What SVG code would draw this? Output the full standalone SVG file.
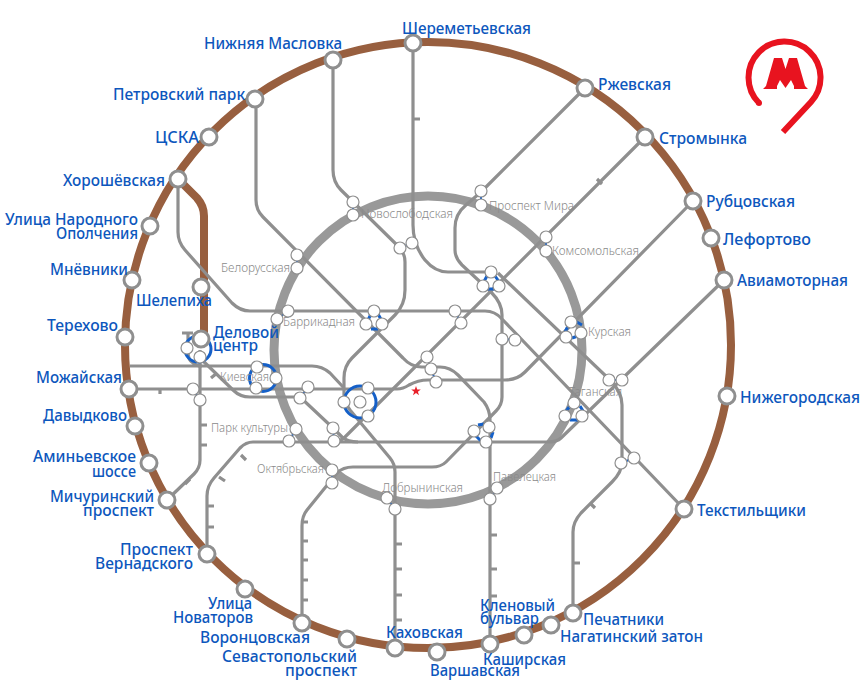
<svg xmlns="http://www.w3.org/2000/svg" width="868" height="696" viewBox="0 0 868 696">
<style>
.l{fill:none;stroke:#8f8f8f;stroke-width:3.2;stroke-linejoin:round}
.b{fill:none;stroke:#985f3f;stroke-width:8}
.u{fill:none;stroke:#1560c8;stroke-width:3}
.k{fill:none;stroke:#1560c8;stroke-width:2}
.o{fill:#fff;stroke:#8f8f8f;stroke-width:3}
.s{fill:#fff;stroke:#8f8f8f;stroke-width:1.2}
text{font-family:"Noto Sans","Open Sans","DejaVu Sans",sans-serif}
.t{font-size:15.5px;font-weight:500;fill:#0d57bd}
.g{font-size:12.5px;font-weight:300;fill:#8a8a8a}
</style>
<rect width="868" height="696" fill="#fff"/>
<g id="connectors">
<circle class="b" cx="428" cy="345" r="303"/>
<path class="b" d="M178 179L197 198Q204 206 204 216V339"/>
<circle cx="428" cy="350" r="154" fill="none" stroke="#999" stroke-width="9"/>
<path class="l" d="M413 43V225Q413 245 425 260Q435 272 448 272H491"/>
<path class="l" d="M498 273L610 380Q622 392 622 405V462Q622 472 612 482L581 513Q573 522 573 532V613"/>
<path class="l" d="M724 280L561 438Q557 442 548 442H253Q246 442 240 448L214 478Q207 486 207 496V554"/>
<path class="l" d="M178 179V232Q178 242 185 250L232 303Q240 311 250 311H485Q495 311 502 319L684 509"/>
<path class="l" d="M645 137L345 437Q341 441 335 442"/>
<path class="l" d="M585 88L481 192L466 205Q455 214 455 228V250Q455 258 462 265L491 292Q502 303 502 315V397Q502 405 496 411L446 462Q441 467 432 467H353Q343 467 337 473L307 510Q302 516 302 526V623"/>
<path class="l" d="M256 99V200Q256 210 263 217L403 358Q411 367 422 367H440Q450 367 458 375L484 402Q490 410 490 420V644"/>
<path class="l" d="M333 60V170Q333 182 341 190L400 248Q405 254 405 262V290Q405 305 395 315L352 358Q344 366 344 378V395Q344 402 350 410L390 458Q395 464 395 472V648"/>
<path class="l" d="M130 366H312Q322 366 330 373L344 388"/>
<path class="l" d="M129 389H397Q403 389 409 385Q418 380 428 380H505Q517 380 525 372L693 201"/>
<path class="l" d="M200 358L233 390Q240 397 250 397H300L333 428L342 437Q348 442 358 442"/>
<path class="l" d="M200 350V460Q200 468 194 474L167 500"/>
<path class="l" d="M182 333H193M188 333V352Q188 360 193 363Q196 366 202 366"/>
<path class="l" d="M413 119H420M602 184L597 179M160 389V394M211 378L217 373M200 425H207M200 445H207M190 479L185 484M241 455L246 460M219 477L225 481M207 506H214M207 527H214M302 522H308M302 541H308M302 560H308M302 580H308M302 600H308M395 544H402M395 569H402M395 595H402M395 620H402M490 535H497M490 569H497M490 596H497M573 563H580M590 503L595 508"/>
<path class="u" d="M482 285L487 276M495 276L500 283M486 289H496"/>
<path class="u" d="M367 322L371 314M378 314L382 321M371 329H378"/>
<path class="u" d="M565 332L568 326M575 321L582 325M572 338L578 336"/>
<path class="u" d="M566 411L570 406M580 406L583 411M570 420H578"/>
<path class="u" d="M478 425L484 424M493 432L491 438M476 436L481 441"/>
<circle class="u" cx="263" cy="378" r="13.5"/>
<circle class="u" cx="198" cy="349" r="13"/>
<circle class="u" cx="360" cy="402" r="16"/>
<path class="k" d="M297 255V268M288 311L277 319M353 202V215M400 248L412 243M481 191V205M546 237V251M455 311L461 323M502 339L515 340M427 357L431 369L436 382M609 380H622M621 463L634 458M497 488L490 499M387 498L395 509M332 470V483M296 429L289 441M333 428L334 441M308 387L300 398M193 389L200 400"/>
</g>
<g id="logo" fill="none">
<path d="M759 103A36 36 0 1 1 811 102L783 132" stroke="#e8131f" stroke-width="6"/>
<circle cx="759" cy="103" r="3" fill="#e8131f"/>
<polygon points="763,89 777,89 777,86 780,80 785.5,88 791,80 794,86 794,89 808,89 805,86 797,58 789,58 785.5,69 782,58 774,58 766,86" fill="#e8131f"/>
</g>
<g id="star"><polygon fill="#e8202a" points="416,386 417.2,389.4 420.8,389.5 417.9,391.7 419,395.2 416,393.1 413,395.2 414.1,391.7 411.2,389.5 414.8,389.4"/></g>
<g id="n1"><circle class="o" cx="413" cy="43" r="8"/><text class="t" x="402" y="34" textLength="129" lengthAdjust="spacingAndGlyphs">Шереметьевская</text></g>
<g id="n2"><circle class="o" cx="333" cy="60" r="8"/><text class="t" x="204" y="49" textLength="138" lengthAdjust="spacingAndGlyphs">Нижняя Масловка</text></g>
<g id="n3"><circle class="o" cx="255" cy="99" r="8"/><text class="t" x="113" y="100" textLength="132" lengthAdjust="spacingAndGlyphs">Петровский парк</text></g>
<g id="n4"><circle class="o" cx="209" cy="137" r="8"/><text class="t" x="155" y="143" textLength="44" lengthAdjust="spacingAndGlyphs">ЦСКА</text></g>
<g id="n5"><circle class="o" cx="178" cy="179" r="8"/><text class="t" x="63" y="186" textLength="102" lengthAdjust="spacingAndGlyphs">Хорошёвская</text></g>
<g id="n6"><circle class="o" cx="150" cy="226" r="8"/><text class="t" x="5" y="225" textLength="133" lengthAdjust="spacingAndGlyphs">Улица Народного</text><text class="t" x="56" y="239" textLength="82" lengthAdjust="spacingAndGlyphs">Ополчения</text></g>
<g id="n7"><circle class="o" cx="132" cy="280" r="8"/><text class="t" x="50" y="275" textLength="78" lengthAdjust="spacingAndGlyphs">Мнёвники</text></g>
<g id="n8"><circle class="o" cx="125" cy="337" r="8"/><text class="t" x="47" y="331" textLength="71" lengthAdjust="spacingAndGlyphs">Терехово</text></g>
<g id="n9"><circle class="o" cx="129" cy="389" r="8"/><text class="t" x="36" y="383" textLength="86" lengthAdjust="spacingAndGlyphs">Можайская</text></g>
<g id="n10"><circle class="o" cx="135" cy="426" r="8"/><text class="t" x="43" y="421" textLength="84" lengthAdjust="spacingAndGlyphs">Давыдково</text></g>
<g id="n11"><circle class="o" cx="149" cy="463" r="8"/><text class="t" x="33" y="462" textLength="103" lengthAdjust="spacingAndGlyphs">Аминьевское</text><text class="t" x="92" y="477" textLength="44" lengthAdjust="spacingAndGlyphs">шоссе</text></g>
<g id="n12"><circle class="o" cx="167" cy="500" r="8"/><text class="t" x="50" y="502" textLength="104" lengthAdjust="spacingAndGlyphs">Мичуринский</text><text class="t" x="83" y="516" textLength="71" lengthAdjust="spacingAndGlyphs">проспект</text></g>
<g id="n13"><circle class="o" cx="207" cy="554" r="8"/><text class="t" x="120" y="555" textLength="73" lengthAdjust="spacingAndGlyphs">Проспект</text><text class="t" x="95" y="569" textLength="98" lengthAdjust="spacingAndGlyphs">Вернадского</text></g>
<g id="n14"><circle class="o" cx="245" cy="589" r="8"/><text class="t" x="208" y="609" textLength="44" lengthAdjust="spacingAndGlyphs">Улица</text><text class="t" x="173" y="623" textLength="80" lengthAdjust="spacingAndGlyphs">Новаторов</text></g>
<g id="n15"><circle class="o" cx="302" cy="623" r="8"/><text class="t" x="200" y="643" textLength="110" lengthAdjust="spacingAndGlyphs">Воронцовская</text></g>
<g id="n16"><circle class="o" cx="347" cy="639" r="8"/><text class="t" x="222" y="662" textLength="135" lengthAdjust="spacingAndGlyphs">Севастопольский</text><text class="t" x="285" y="676" textLength="72" lengthAdjust="spacingAndGlyphs">проспект</text></g>
<g id="n17"><circle class="o" cx="395" cy="648" r="8"/><text class="t" x="386" y="638" textLength="77" lengthAdjust="spacingAndGlyphs">Каховская</text></g>
<g id="n18"><circle class="o" cx="437" cy="652" r="8"/><text class="t" x="430" y="676" textLength="90" lengthAdjust="spacingAndGlyphs">Варшавская</text></g>
<g id="n19"><circle class="o" cx="490" cy="644" r="8"/><text class="t" x="483" y="665" textLength="83" lengthAdjust="spacingAndGlyphs">Каширская</text></g>
<g id="n20"><circle class="o" cx="524" cy="635" r="8"/><text class="t" x="480" y="611" textLength="75" lengthAdjust="spacingAndGlyphs">Кленовый</text><text class="t" x="480" y="624" textLength="59" lengthAdjust="spacingAndGlyphs">бульвар</text></g>
<g id="n21"><circle class="o" cx="551" cy="625" r="8"/><text class="t" x="560" y="642" textLength="143" lengthAdjust="spacingAndGlyphs">Нагатинский затон</text></g>
<g id="n22"><circle class="o" cx="573" cy="613" r="8"/><text class="t" x="583" y="625" textLength="81" lengthAdjust="spacingAndGlyphs">Печатники</text></g>
<g id="n23"><circle class="o" cx="684" cy="509" r="8"/><text class="t" x="697" y="516" textLength="109" lengthAdjust="spacingAndGlyphs">Текстильщики</text></g>
<g id="n24"><circle class="o" cx="727" cy="396" r="8"/><text class="t" x="740" y="403" textLength="120" lengthAdjust="spacingAndGlyphs">Нижегородская</text></g>
<g id="n25"><circle class="o" cx="724" cy="280" r="8"/><text class="t" x="737" y="286" textLength="111" lengthAdjust="spacingAndGlyphs">Авиамоторная</text></g>
<g id="n26"><circle class="o" cx="711" cy="238" r="8"/><text class="t" x="723" y="245" textLength="88" lengthAdjust="spacingAndGlyphs">Лефортово</text></g>
<g id="n27"><circle class="o" cx="693" cy="201" r="8"/><text class="t" x="706" y="207" textLength="89" lengthAdjust="spacingAndGlyphs">Рубцовская</text></g>
<g id="n28"><circle class="o" cx="645" cy="137" r="8"/><text class="t" x="659" y="144" textLength="88" lengthAdjust="spacingAndGlyphs">Стромынка</text></g>
<g id="n29"><circle class="o" cx="585" cy="88" r="8"/><text class="t" x="598" y="90" textLength="73" lengthAdjust="spacingAndGlyphs">Ржевская</text></g>
<g id="n30"><circle class="o" cx="201" cy="287" r="8"/><text class="t" x="136" y="306" textLength="76" lengthAdjust="spacingAndGlyphs">Шелепиха</text></g>
<g id="n31"><circle class="s" cx="187" cy="348" r="6"/><circle class="s" cx="200" cy="357" r="6"/><circle class="o" cx="201" cy="339" r="8"/><text class="t" x="213" y="338" textLength="66" lengthAdjust="spacingAndGlyphs">Деловой</text><text class="t" x="213" y="351" textLength="45" lengthAdjust="spacingAndGlyphs">центр</text></g>
<g id="s1"><circle class="s" cx="297" cy="255" r="6"/><circle class="s" cx="297" cy="268" r="6"/><text class="g" x="221" y="272" textLength="69" lengthAdjust="spacingAndGlyphs">Белорусская</text></g>
<g id="s2"><circle class="s" cx="288" cy="311" r="6"/><circle class="s" cx="277" cy="319" r="6"/><text class="g" x="283" y="326" textLength="72" lengthAdjust="spacingAndGlyphs">Баррикадная</text></g>
<g id="s3"><circle class="s" cx="257" cy="367" r="6"/><circle class="s" cx="276" cy="378" r="6"/><circle class="s" cx="256" cy="388" r="6"/><text class="g" x="220" y="381" textLength="49" lengthAdjust="spacingAndGlyphs">Киевская</text></g>
<g id="s4"><circle class="s" cx="296" cy="429" r="6"/><circle class="s" cx="289" cy="441" r="6"/><text class="g" x="211" y="432" textLength="77" lengthAdjust="spacingAndGlyphs">Парк культуры</text></g>
<g id="s5"><circle class="s" cx="332" cy="470" r="6"/><circle class="s" cx="332" cy="483" r="6"/><text class="g" x="257" y="473" textLength="67" lengthAdjust="spacingAndGlyphs">Октябрьская</text></g>
<g id="s6"><circle class="s" cx="387" cy="498" r="6"/><circle class="s" cx="395" cy="509" r="6"/><text class="g" x="382" y="492" textLength="81" lengthAdjust="spacingAndGlyphs">Добрынинская</text></g>
<g id="s7"><circle class="s" cx="497" cy="488" r="6"/><circle class="s" cx="490" cy="499" r="6"/><text class="g" x="493" y="481" textLength="63" lengthAdjust="spacingAndGlyphs">Павелецкая</text></g>
<g id="s8"><circle class="s" cx="574" cy="403" r="6"/><circle class="s" cx="565" cy="416" r="6"/><circle class="s" cx="582" cy="416" r="6"/><text class="g" x="569" y="396" textLength="53" lengthAdjust="spacingAndGlyphs">Таганская</text></g>
<g id="s9"><circle class="s" cx="571" cy="322" r="6"/><circle class="s" cx="566" cy="337" r="6"/><circle class="s" cx="581" cy="333" r="6"/><text class="g" x="588" y="336" textLength="43" lengthAdjust="spacingAndGlyphs">Курская</text></g>
<g id="s10"><circle class="s" cx="546" cy="237" r="6"/><circle class="s" cx="546" cy="251" r="6"/><text class="g" x="552" y="255" textLength="87" lengthAdjust="spacingAndGlyphs">Комсомольская</text></g>
<g id="s11"><circle class="s" cx="481" cy="191" r="6"/><circle class="s" cx="481" cy="205" r="6"/><text class="g" x="489" y="210" textLength="85" lengthAdjust="spacingAndGlyphs">Проспект Мира</text></g>
<g id="s12"><circle class="s" cx="353" cy="202" r="6"/><circle class="s" cx="353" cy="215" r="6"/><text class="g" x="361" y="218" textLength="92" lengthAdjust="spacingAndGlyphs">Новослободская</text></g>
<g id="s13"><circle class="s" cx="491" cy="272" r="6"/><circle class="s" cx="483" cy="286" r="6"/><circle class="s" cx="499" cy="286" r="6"/></g>
<g id="s14"><circle class="s" cx="374" cy="311" r="6"/><circle class="s" cx="366" cy="324" r="6"/><circle class="s" cx="382" cy="324" r="6"/></g>
<g id="s15"><circle class="s" cx="489" cy="427" r="6"/><circle class="s" cx="474" cy="431" r="6"/><circle class="s" cx="486" cy="442" r="6"/></g>
<g id="s16"><circle class="s" cx="368" cy="388" r="6"/><circle class="s" cx="344" cy="402" r="6"/><circle class="s" cx="368" cy="416" r="6"/><circle class="s" cx="360" cy="402" r="6"/></g>
<g id="s17"><circle class="s" cx="400" cy="248" r="6"/><circle class="s" cx="412" cy="243" r="6"/></g>
<g id="s18"><circle class="s" cx="455" cy="311" r="6"/><circle class="s" cx="461" cy="323" r="6"/></g>
<g id="s19"><circle class="s" cx="502" cy="339" r="6"/><circle class="s" cx="515" cy="340" r="6"/></g>
<g id="s20"><circle class="s" cx="427" cy="357" r="6"/><circle class="s" cx="431" cy="369" r="6"/><circle class="s" cx="436" cy="382" r="6"/></g>
<g id="s21"><circle class="s" cx="609" cy="380" r="6"/><circle class="s" cx="622" cy="380" r="6"/></g>
<g id="s22"><circle class="s" cx="621" cy="463" r="6"/><circle class="s" cx="634" cy="458" r="6"/></g>
<g id="s23"><circle class="s" cx="333" cy="428" r="6"/><circle class="s" cx="334" cy="441" r="6"/></g>
<g id="s24"><circle class="s" cx="308" cy="387" r="6"/><circle class="s" cx="300" cy="398" r="6"/></g>
<g id="s25"><circle class="s" cx="193" cy="389" r="6"/><circle class="s" cx="200" cy="400" r="6"/></g>
</svg>
